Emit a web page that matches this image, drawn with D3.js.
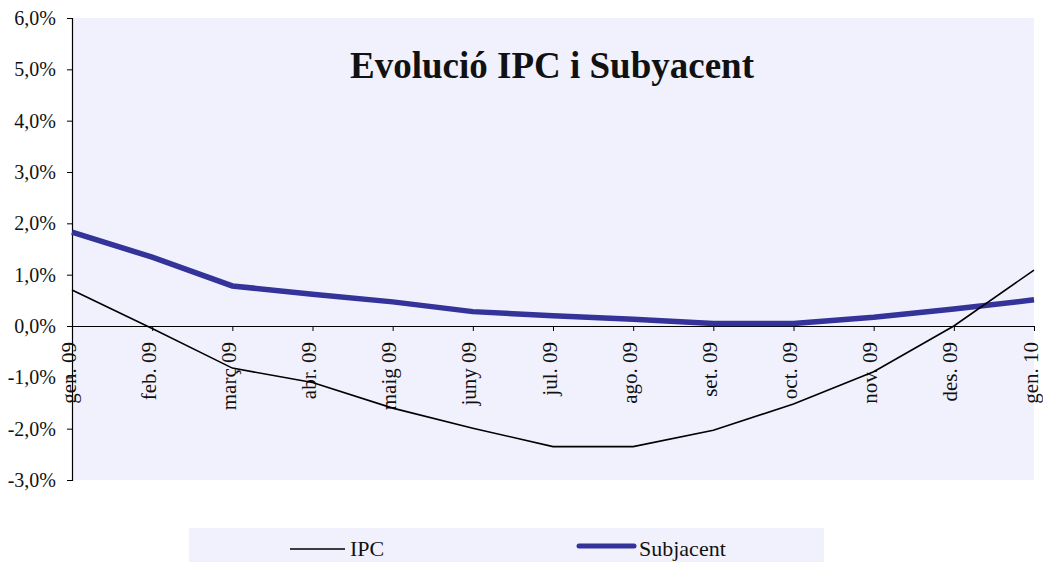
<!DOCTYPE html>
<html>
<head>
<meta charset="utf-8">
<script src="https://cdn.jsdelivr.net/npm/d3@7"></script>
<style>
  body { margin: 0; background: #ffffff; }
  svg { display: block; font-family: "Liberation Serif", "DejaVu Serif", serif; }
</style>
</head>
<body>
<div id="chart"></div>
<script>
// data
var months = ['gen. 09','feb. 09','març 09','abr. 09','maig 09','juny 09','jul. 09','ago. 09','set. 09','oct. 09','nov. 09','des. 09','gen. 10']
var ipc = [0.70, -0.05, -0.82, -1.10, -1.60, -1.99, -2.35, -2.35, -2.03, -1.52, -0.89, 0.00, 1.09]
var subjacent = [1.83, 1.34, 0.78, 0.62, 0.47, 0.28, 0.20, 0.13, 0.05, 0.05, 0.17, 0.33, 0.51]
var yTicks = [6, 5, 4, 3, 2, 1, 0, -1, -2, -3]
var seriesNames = ['IPC', 'Subjacent']

var width = 1043
var height = 562
var margin = { top: 18, left: 72, right: 9, bottom: 82 }
var plotW = width - margin.left - margin.right
var plotH = height - margin.top - margin.bottom
var bg = '#f1f1fd'
var blue = '#333399'

var svg = d3.select('#chart')
  .append('svg')
    .attr('width', width)
    .attr('height', height)

var x = d3.scalePoint()
  .domain(months)
  .range([0, plotW])

var y = d3.scaleLinear()
  .domain([-3, 6])
  .range([plotH, 0])

var g = svg.append('g')
  .attr('transform', 'translate(' + margin.left + ',' + margin.top + ')')

// plot background
g.append('rect')
  .attr('width', plotW)
  .attr('height', plotH)
  .attr('fill', bg)

// title
g.append('text')
  .attr('x', 552 - margin.left)
  .attr('y', 60)
  .attr('text-anchor', 'middle')
  .style('font-size', '37px')
  .style('font-weight', 'bold')
  .attr('fill', '#111')
  .text('Evolució IPC i Subyacent')

// y axis
var fmt = function(d) { return d.toFixed(1).replace('.', ',') + '%' }
var yAxis = g.append('g')
  .call(d3.axisLeft(y).tickValues(yTicks).tickFormat(fmt).tickSize(5).tickPadding(11))
yAxis.select('.domain').attr('stroke', '#000').attr('stroke-width', 1.2)
yAxis.selectAll('text')
  .style('font-size', '20px')
  .style('font-family', '"Liberation Serif", serif')
  .attr('fill', '#111')

// x axis on the zero line
var xAxis = g.append('g')
  .attr('transform', 'translate(0,' + y(0) + ')')
  .call(d3.axisBottom(x).tickSize(5).tickSizeOuter(0))
xAxis.select('.domain').attr('stroke', '#000').attr('stroke-width', 1.2)
xAxis.selectAll('text')
  .style('font-size', '21px')
  .style('font-family', '"Liberation Serif", serif')
  .attr('fill', '#111')
  .attr('text-anchor', 'end')
  .attr('transform', 'rotate(-90)')
  .attr('x', -16)
  .attr('y', 0)
  .attr('dy', '0.15em')

var line = d3.line()
  .x(function(d, i) { return x(months[i]) })
  .y(function(d) { return y(d) })

g.append('path')
  .datum(subjacent)
  .attr('fill', 'none')
  .attr('stroke', blue)
  .attr('stroke-width', 5.5)
  .attr('d', line)

g.append('path')
  .datum(ipc)
  .attr('fill', 'none')
  .attr('stroke', '#000')
  .attr('stroke-width', 1.6)
  .attr('d', line)

// legend
var legend = svg.append('g')
legend.append('rect')
  .attr('x', 189)
  .attr('y', 528)
  .attr('width', 635)
  .attr('height', 40)
  .attr('fill', bg)

var legendItems = [
  { name: seriesNames[0], x1: 290, x2: 345, y: 549, color: '#000', w: 1.6, cap: 'butt' },
  { name: seriesNames[1], x1: 579, x2: 634, y: 546, color: blue, w: 5, cap: 'round' }
]
legendItems.forEach(function(d) {
  legend.append('line')
    .attr('x1', d.x1).attr('x2', d.x2)
    .attr('y1', d.y).attr('y2', d.y)
    .attr('stroke', d.color)
    .attr('stroke-width', d.w)
    .attr('stroke-linecap', d.cap)
  legend.append('text')
    .attr('x', d.x2 + 5)
    .attr('y', 556)
    .style('font-size', '22px')
    .attr('fill', '#111')
    .text(d.name)
})
</script>
</body>
</html>
